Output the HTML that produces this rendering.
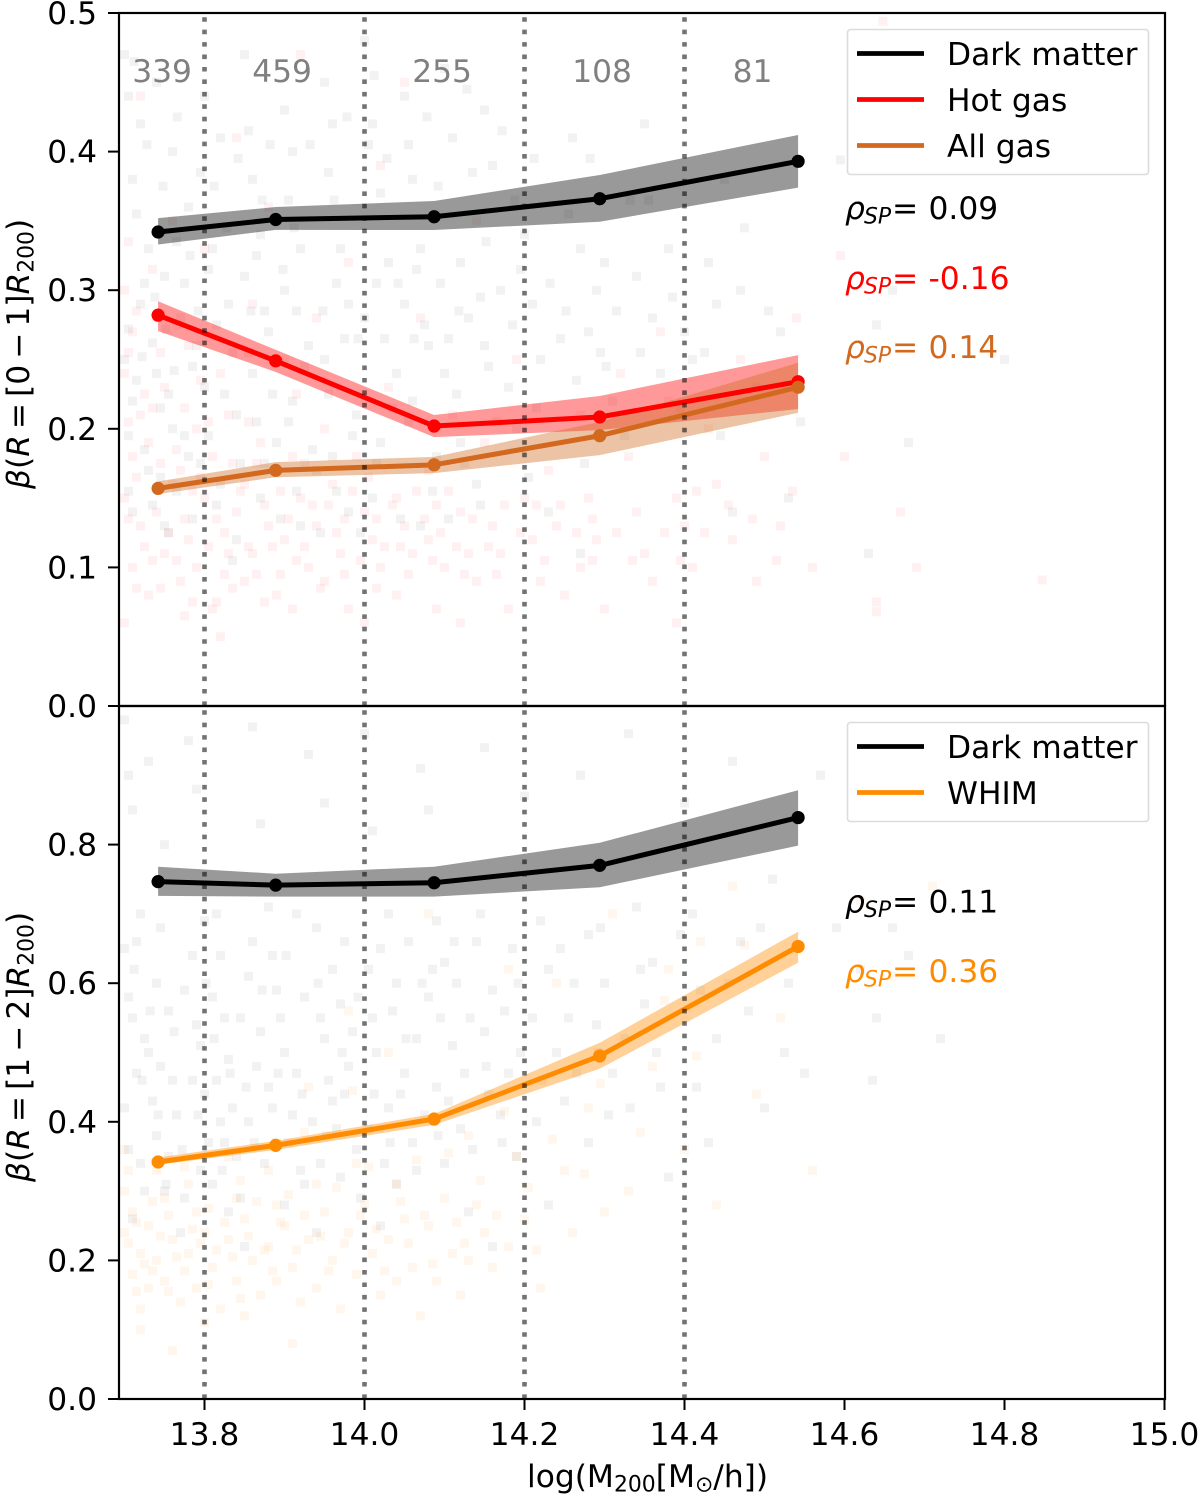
<!DOCTYPE html>
<html lang="en">
<head>
<meta charset="utf-8">
<title>Beta versus halo mass</title>
<style>
html,body{margin:0;padding:0;background:#fff;width:1200px;height:1494px;overflow:hidden}
svg{display:block}
text{font-family:"DejaVu Sans","Liberation Sans",sans-serif;font-size:31.3px;fill:#000}
.sub{font-size:21.9px}
.it{font-style:italic}
</style>
</head>
<body>
<svg id="chart" xmlns="http://www.w3.org/2000/svg" width="1200" height="1494" viewBox="0 0 1200 1494"></svg>
<script>
const massBins = [13.742, 13.889, 14.087, 14.294, 14.542];
const xTicks = [13.8, 14.0, 14.2, 14.4, 14.6, 14.8, 15.0];
const binEdges = [13.8, 14.0, 14.2, 14.4];
const topTicks = [0.0, 0.1, 0.2, 0.3, 0.4, 0.5];
const bottomTicks = [0.0, 0.2, 0.4, 0.6, 0.8];
const binCounts = ['339', '459', '255', '108', '81'];
const binCountMass = [13.747, 13.897, 14.097, 14.297, 14.485];

const topDark = [0.342, 0.351, 0.353, 0.366, 0.393];
const topDarkHigh = [0.352, 0.360, 0.3644, 0.3831, 0.412];
const topDarkLow = [0.333, 0.3435, 0.3434, 0.3494, 0.374];
const topHot = [0.282, 0.249, 0.202, 0.2085, 0.234];
const topHotHigh = [0.292, 0.257, 0.210, 0.2237, 0.2532];
const topHotLow = [0.2705, 0.241, 0.194, 0.199, 0.2143];
const topAll = [0.157, 0.170, 0.174, 0.195, 0.230];
const topAllHigh = [0.162, 0.176, 0.1797, 0.205, 0.2477];
const topAllLow = [0.153, 0.165, 0.168, 0.181, 0.2116];
const bottomDark = [0.7466, 0.7415, 0.745, 0.770, 0.839];
const bottomDarkHigh = [0.768, 0.758, 0.768, 0.8026, 0.8785];
const bottomDarkLow = [0.726, 0.725, 0.725, 0.7385, 0.7985];
const bottomWhim = [0.342, 0.366, 0.404, 0.495, 0.653];
const bottomWhimHigh = [0.3485, 0.3725, 0.4115, 0.514, 0.6745];
const bottomWhimLow = [0.338, 0.3595, 0.3955, 0.4765, 0.6295];

const topDarkScatter = [[13.70,.47],[13.72,.42],[13.71,.38],[13.73,.33],[13.72,.29],[13.70,.25],[13.71,.22],[13.74,.45],[13.76,.40],[13.75,.31],[13.77,.28],[13.74,.24],[13.76,.20],[13.78,.36],[13.79,.26],[13.73,.17],[13.71,.14],[13.75,.13],[13.78,.18],[13.80,.44],[13.82,.41],[13.81,.33],[13.83,.29],[13.80,.23],[13.84,.21],[13.82,.16],[13.85,.47],[13.86,.38],[13.87,.34],[13.85,.31],[13.88,.27],[13.86,.24],[13.89,.19],[13.87,.15],[13.84,.12],[13.90,.43],[13.91,.40],[13.92,.33],[13.90,.30],[13.93,.26],[13.91,.22],[13.94,.17],[13.92,.13],[13.95,.45],[13.96,.42],[13.97,.33],[13.98,.29],[13.95,.25],[13.99,.21],[13.96,.18],[13.98,.14],[14.00,.48],[14.01,.42],[14.02,.37],[14.03,.32],[14.00,.28],[14.04,.24],[14.02,.19],[14.01,.15],[14.05,.44],[14.06,.38],[14.07,.33],[14.05,.29],[14.08,.26],[14.06,.22],[14.09,.18],[14.07,.13],[14.10,.46],[14.11,.41],[14.12,.32],[14.13,.28],[14.10,.24],[14.12,.19],[14.14,.16],[14.15,.43],[14.16,.39],[14.17,.30],[14.15,.26],[14.18,.23],[14.20,.34],[14.21,.29],[14.22,.25],[14.19,.20],[14.23,.14],[14.26,.41],[14.27,.33],[14.29,.30],[14.28,.27],[14.30,.32],[14.31,.22],[14.27,.11],[14.35,.42],[14.34,.31],[14.36,.28],[14.38,.33],[14.37,.24],[14.40,.27],[14.41,.25],[14.43,.32],[14.45,.38],[14.44,.29],[14.47,.30],[14.49,.23],[14.46,.14],[14.52,.27],[14.53,.15],[14.595,.394],[14.64,.275],[14.66,.30],[14.68,.19],[14.63,.11],[14.80,.25],
[13.705,.44],[13.715,.355],[13.725,.305],[13.705,.272],[13.735,.262],[13.715,.235],[13.745,.215],[13.705,.195],[13.725,.185],[13.745,.165],[13.705,.155],[13.735,.145],[13.755,.125],[13.765,.335],[13.775,.305],[13.785,.245],[13.755,.225],[13.775,.195],[13.795,.175],[13.765,.155],[13.785,.135],[13.795,.385],[13.805,.315],[13.815,.275],[13.835,.255],[13.825,.225],[13.805,.195],[13.845,.175],[13.815,.145],[13.835,.105],[13.855,.415],[13.865,.325],[13.875,.285],[13.855,.255],[13.885,.225],[13.865,.205],[13.875,.175],[13.895,.135],[13.905,.365],[13.915,.285],[13.925,.245],[13.905,.205],[13.935,.185],[13.915,.155],[13.945,.125],[13.955,.385],[13.965,.305],[13.975,.265],[13.955,.225],[13.985,.195],[13.965,.155],[13.995,.125],[14.005,.405],[14.015,.305],[14.025,.265],[14.035,.215],[14.015,.175],[14.045,.135],[14.055,.405],[14.065,.315],[14.075,.275],[14.055,.205],[14.085,.155],[14.095,.305],[14.105,.265],[14.115,.225],[14.125,.175],[14.105,.135],[14.135,.385],[14.145,.295],[14.155,.245],[14.165,.205],[14.145,.145],[14.185,.275],[14.195,.315],[14.215,.215],[14.205,.165],[14.245,.265],[14.255,.355],[14.265,.235],[14.275,.175],[14.295,.255],[14.315,.285],[14.325,.195],[14.345,.255],[14.355,.365],[14.385,.295],[14.395,.215],[14.425,.255],[14.445,.195],[14.475,.345],[14.505,.285],[14.545,.205],
[13.712,.465],[13.728,.405],[13.748,.375],[13.766,.425],[13.738,.295],[13.752,.272],[13.782,.325],[13.792,.285],[13.722,.252],[13.762,.242],[13.812,.375],[13.828,.345],[13.842,.395],[13.858,.285],[13.872,.365],[13.882,.405],[13.898,.315],[13.912,.345],[13.932,.405],[13.948,.285],[13.962,.365],[13.978,.425],[13.992,.265],[14.012,.455],[14.028,.395],[14.042,.305],[14.062,.265],[14.078,.425],[14.092,.375],[14.118,.285],[14.128,.445],[14.152,.335],[14.172,.415],[14.188,.365],[14.212,.395],[14.232,.305],[14.252,.285],[14.282,.395],[14.302,.245],[14.332,.365]];
const topHotScatter = [[13.70,.30],[13.71,.27],[13.70,.24],[13.72,.21],[13.71,.18],[13.70,.15],[13.72,.13],[13.71,.10],[13.73,.08],[13.70,.06],[13.74,.28],[13.75,.23],[13.73,.19],[13.76,.16],[13.74,.14],[13.75,.11],[13.77,.09],[13.72,.44],[13.76,.35],[13.78,.26],[13.79,.20],[13.77,.17],[13.80,.15],[13.78,.12],[13.79,.10],[13.81,.07],[13.80,.33],[13.82,.24],[13.83,.21],[13.81,.18],[13.84,.14],[13.83,.11],[13.85,.09],[13.82,.05],[13.84,.41],[13.86,.29],[13.87,.19],[13.85,.16],[13.88,.13],[13.86,.11],[13.89,.08],[13.88,.36],[13.90,.25],[13.91,.18],[13.92,.15],[13.90,.12],[13.93,.10],[13.91,.07],[13.92,.47],[13.94,.28],[13.95,.20],[13.96,.16],[13.94,.13],[13.97,.11],[13.95,.09],[13.98,.07],[13.98,.32],[13.99,.18],[14.00,.14],[14.01,.12],[14.02,.10],[14.00,.06],[14.02,.39],[14.03,.23],[14.04,.15],[14.05,.13],[14.06,.11],[14.04,.08],[14.05,.45],[14.07,.28],[14.08,.17],[14.09,.145],[14.08,.12],[14.10,.10],[14.09,.07],[14.11,.21],[14.12,.14],[14.13,.11],[14.14,.09],[14.12,.06],[14.14,.35],[14.15,.19],[14.16,.13],[14.17,.11],[14.18,.07],[14.19,.25],[14.20,.15],[14.21,.12],[14.22,.09],[14.23,.17],[14.24,.13],[14.25,.08],[14.27,.21],[14.28,.15],[14.29,.12],[14.27,.10],[14.30,.07],[14.32,.24],[14.33,.18],[14.34,.14],[14.35,.11],[14.36,.09],[14.37,.27],[14.38,.22],[14.39,.15],[14.40,.13],[14.41,.10],[14.39,.06],[14.43,.20],[14.44,.16],[14.46,.12],[14.47,.25],[14.49,.09],[14.50,.18],[14.52,.13],[14.54,.28],[14.56,.10],[14.595,.325],[14.648,.494],[14.60,.18],[14.64,.075],[14.64,.068],[14.67,.14],[14.847,.091],[14.69,.10],
[13.705,.335],[13.715,.285],[13.705,.255],[13.725,.225],[13.705,.205],[13.715,.165],[13.705,.135],[13.725,.115],[13.715,.085],[13.735,.315],[13.745,.255],[13.735,.215],[13.745,.175],[13.755,.125],[13.735,.105],[13.745,.085],[13.765,.275],[13.775,.215],[13.765,.185],[13.785,.155],[13.775,.135],[13.765,.105],[13.785,.075],[13.775,.065],[13.795,.235],[13.805,.205],[13.795,.165],[13.815,.135],[13.805,.115],[13.825,.095],[13.815,.075],[13.835,.175],[13.845,.155],[13.825,.125],[13.855,.115],[13.835,.085],[13.855,.205],[13.865,.175],[13.875,.145],[13.885,.115],[13.865,.095],[13.875,.075],[13.895,.155],[13.905,.135],[13.915,.105],[13.895,.095],[13.925,.175],[13.935,.145],[13.925,.115],[13.945,.085],[13.915,.225],[13.955,.145],[13.965,.125],[13.975,.095],[13.985,.155],[13.975,.135],[13.995,.105],[14.005,.165],[14.015,.135],[14.025,.115],[14.015,.085],[14.035,.145],[14.045,.115],[14.055,.095],[14.065,.155],[14.075,.135],[14.085,.105],[14.095,.125],[14.105,.155],[14.115,.115],[14.125,.095],[14.135,.135],[14.155,.115],[14.165,.095],[14.175,.145],[14.195,.125],[14.215,.145],[14.225,.105],[14.245,.145],[14.265,.125],[14.285,.135],[14.285,.105],[14.315,.125],[14.335,.105],[14.375,.125],[14.395,.105],[14.415,.155],[14.425,.125],[14.455,.145],[14.485,.135],[14.515,.105],[14.535,.155]];
const bottomDarkScatter = [[13.70,.98],[13.73,.92],[13.71,.85],[13.75,.80],[13.72,.70],[13.70,.65],[13.74,.60],[13.71,.55],[13.73,.50],[13.76,.46],[13.70,.42],[13.74,.38],[13.72,.34],[13.75,.30],[13.71,.26],[13.77,.24],[13.78,.95],[13.79,.88],[13.80,.69],[13.82,.64],[13.81,.58],[13.79,.54],[13.83,.49],[13.80,.44],[13.82,.40],[13.84,.35],[13.81,.31],[13.83,.27],[13.85,.22],[13.86,.97],[13.87,.83],[13.88,.71],[13.86,.66],[13.89,.59],[13.87,.53],[13.90,.50],[13.88,.45],[13.91,.41],[13.89,.37],[13.92,.33],[13.90,.28],[13.93,.93],[13.95,.86],[13.94,.68],[13.96,.62],[13.97,.57],[13.95,.52],[13.98,.48],[13.96,.43],[13.99,.36],[13.97,.32],[13.94,.24],[14.00,.96],[14.01,.82],[14.03,.70],[14.02,.65],[14.04,.60],[14.01,.55],[14.05,.47],[14.03,.42],[14.06,.37],[14.04,.31],[14.02,.25],[14.07,.91],[14.08,.85],[14.09,.69],[14.10,.63],[14.08,.58],[14.11,.51],[14.09,.45],[14.12,.39],[14.10,.34],[14.13,.27],[14.15,.94],[14.14,.66],[14.16,.59],[14.15,.53],[14.18,.47],[14.17,.41],[14.19,.35],[14.16,.22],[14.20,.87],[14.22,.69],[14.23,.62],[14.21,.55],[14.24,.50],[14.25,.43],[14.23,.28],[14.27,.90],[14.28,.67],[14.30,.60],[14.29,.54],[14.31,.47],[14.28,.37],[14.33,.96],[14.34,.71],[14.36,.63],[14.35,.57],[14.37,.45],[14.38,.32],[14.40,.86],[14.41,.70],[14.42,.59],[14.44,.52],[14.43,.37],[14.46,.92],[14.47,.66],[14.48,.56],[14.50,.42],[14.51,.75],[14.53,.60],[14.55,.47],[14.57,.90],[14.59,.68],[14.62,.62],[14.635,.46],[14.66,.68],[14.68,.64],[14.64,.55],[14.72,.52],
[13.705,.90],[13.715,.66],[13.705,.58],[13.725,.52],[13.715,.47],[13.735,.43],[13.705,.36],[13.725,.30],[13.745,.68],[13.755,.56],[13.745,.48],[13.765,.41],[13.755,.35],[13.775,.29],[13.785,.64],[13.775,.59],[13.795,.51],[13.785,.46],[13.805,.37],[13.795,.33],[13.815,.70],[13.825,.55],[13.815,.46],[13.835,.42],[13.825,.37],[13.845,.29],[13.855,.61],[13.845,.55],[13.865,.48],[13.855,.40],[13.875,.34],[13.885,.64],[13.895,.55],[13.885,.42],[13.905,.37],[13.915,.70],[13.925,.58],[13.915,.47],[13.935,.40],[13.925,.31],[13.945,.55],[13.955,.46],[13.965,.39],[13.945,.34],[13.975,.66],[13.985,.53],[13.975,.44],[13.995,.29],[14.005,.62],[14.015,.50],[14.005,.39],[14.025,.34],[14.035,.56],[14.045,.44],[14.055,.66],[14.065,.52],[14.075,.41],[14.065,.33],[14.085,.62],[14.095,.55],[14.105,.43],[14.115,.60],[14.125,.47],[14.135,.36],[14.145,.70],[14.155,.44],[14.175,.56],[14.185,.65],[14.195,.50],[14.215,.40],[14.245,.65],[14.255,.55],[14.265,.47],[14.295,.68],[14.305,.41],[14.325,.52],[14.345,.62],[14.365,.50],[14.395,.67],[14.415,.45],[14.455,.60],[14.495,.68],[14.525,.50],
[13.712,.62],[13.732,.56],[13.722,.46],[13.742,.41],[13.762,.53],[13.772,.36],[13.752,.31],[13.792,.41],[13.802,.60],[13.812,.52],[13.832,.47],[13.822,.33],[13.852,.45],[13.862,.37],[13.872,.59],[13.892,.47],[13.902,.64],[13.922,.44],[13.942,.60],[13.952,.38],[13.972,.50],[13.992,.58],[14.012,.44],[14.032,.37],[14.052,.52],[14.072,.60],[14.092,.38],[14.112,.66],[14.132,.55],[14.152,.48],[14.172,.37],[14.192,.60],[14.222,.46],[14.262,.60],[14.292,.50],[14.332,.42]];
const bottomWhimScatter = [[13.70,.30],[13.71,.27],[13.70,.24],[13.72,.21],[13.71,.18],[13.73,.16],[13.72,.13],[13.70,.36],[13.74,.33],[13.75,.29],[13.73,.25],[13.76,.23],[13.74,.20],[13.75,.17],[13.77,.14],[13.72,.10],[13.76,.07],[13.78,.31],[13.79,.27],[13.80,.24],[13.78,.21],[13.81,.19],[13.79,.16],[13.82,.13],[13.80,.11],[13.83,.35],[13.84,.29],[13.85,.26],[13.83,.23],[13.86,.20],[13.84,.17],[13.87,.15],[13.85,.12],[13.88,.33],[13.89,.28],[13.90,.25],[13.88,.22],[13.91,.19],[13.89,.17],[13.92,.14],[13.93,.45],[13.94,.31],[13.95,.27],[13.93,.23],[13.96,.20],[13.94,.16],[13.97,.13],[13.91,.08],[13.98,.56],[13.99,.34],[14.00,.28],[13.98,.24],[14.01,.21],[13.99,.18],[14.02,.15],[14.03,.50],[14.04,.31],[14.05,.26],[14.03,.23],[14.06,.19],[14.04,.17],[14.07,.12],[14.08,.70],[14.09,.40],[14.10,.29],[14.08,.25],[14.11,.21],[14.09,.17],[14.12,.15],[14.13,.38],[14.14,.28],[14.15,.24],[14.13,.20],[14.16,.19],[14.18,.62],[14.19,.35],[14.20,.26],[14.18,.22],[14.22,.16],[14.24,.60],[14.25,.33],[14.26,.24],[14.28,.42],[14.30,.27],[14.31,.70],[14.33,.30],[14.36,.48],[14.38,.62],[14.40,.36],[14.42,.66],[14.44,.28],[14.46,.74],[14.49,.44],[14.52,.55],[14.56,.33],[14.62,.72],[14.66,.61],[14.71,.74],
[13.705,.33],[13.715,.255],[13.705,.225],[13.725,.195],[13.715,.155],[13.735,.285],[13.745,.235],[13.735,.185],[13.755,.265],[13.765,.205],[13.755,.155],[13.775,.335],[13.785,.245],[13.775,.185],[13.795,.225],[13.805,.275],[13.815,.215],[13.805,.165],[13.825,.255],[13.835,.205],[13.845,.315],[13.855,.235],[13.845,.145],[13.865,.285],[13.875,.215],[13.885,.185],[13.895,.255],[13.905,.295],[13.915,.215],[13.925,.385],[13.925,.265],[13.945,.235],[13.955,.185],[13.965,.305],[13.975,.225],[13.985,.445],[13.995,.265],[14.005,.335],[14.015,.245],[14.025,.185],[14.045,.285],[14.055,.225],[14.065,.345],[14.075,.265],[14.085,.195],[14.105,.355],[14.115,.255],[14.125,.225],[14.145,.315],[14.165,.265],[14.175,.415],[14.205,.305],[14.215,.215],[14.235,.375],[14.275,.325],[14.295,.455],[14.345,.385],[14.375,.575],[14.415,.495],[14.475,.655]];

const ns = 'http://www.w3.org/2000/svg';
const svg = document.getElementById('chart');
function x(v) { return 364.5 + (v - 14) * 800; }
function yTop(v) { return 706 - v * 1386; }
function yBottom(v) { return 1399 - v * 693; }
function mk(tag, attrs, parent) {
  const el = document.createElementNS(ns, tag);
  for (const k in attrs) el.setAttribute(k, attrs[k]);
  (parent || svg).appendChild(el);
  return el;
}
function drawScatter(points, yFn, color, alpha, name) {
  for (const p of points) {
    const s = mk('rect', {x: x(p[0]) - 4.5, y: yFn(p[1]) - 4.5, width: 9, height: 9, fill: color, 'fill-opacity': alpha});
    
    
  }
}
function drawBand(high, low, yFn, color, name) {
  let d = '';
  massBins.forEach((m, i) => { d += (i ? 'L' : 'M') + x(m) + ' ' + yFn(high[i]); });
  for (let i = massBins.length - 1; i >= 0; i--) d += 'L' + x(massBins[i]) + ' ' + yFn(low[i]);
  const b = mk('path', {d: d + 'Z', fill: color, 'fill-opacity': 0.4});
  
  
}
function drawLine(values, yFn, color, name) {
  const pts = values.map((v, i) => x(massBins[i]) + ',' + yFn(v)).join(' ');
  const l = mk('polyline', {points: pts, fill: 'none', stroke: color, 'stroke-width': 5, 'stroke-linejoin': 'round'});
  
  
  values.forEach((v, i) => {
    const c = mk('circle', {cx: x(massBins[i]), cy: yFn(v), r: 6.6, fill: color});
    
    
  });
}
function label(txt, px, py, anchor, fill, name) {
  const t = mk('text', {x: px, y: py, 'text-anchor': anchor, fill: fill || '#000'});
  t.textContent = txt;
  t.style.fill = fill || '#000';
  
  
  return t;
}
function tspan(parent, txt, attrs, cls) {
  const s = mk('tspan', attrs || {}, parent);
  if (cls) s.setAttribute('class', cls);
  s.textContent = txt;
  return s;
}

drawScatter(topDarkScatter, yTop, '#000', 0.05, 'dark-matter-scatter-point');
drawScatter(topHotScatter, yTop, '#f00', 0.055, 'hot-gas-scatter-point');
drawScatter(bottomDarkScatter, yBottom, '#000', 0.05, 'dark-matter-scatter-point');
drawScatter(bottomWhimScatter, yBottom, '#ff8c00', 0.07, 'whim-scatter-point');

drawBand(topDarkHigh, topDarkLow, yTop, '#000', 'dark-matter-band-top');
drawBand(topHotHigh, topHotLow, yTop, '#f00', 'hot-gas-band');
drawBand(topAllHigh, topAllLow, yTop, '#d2691e', 'all-gas-band');
drawBand(bottomDarkHigh, bottomDarkLow, yBottom, '#000', 'dark-matter-band-bottom');
drawBand(bottomWhimHigh, bottomWhimLow, yBottom, '#ff8c00', 'whim-band');

drawLine(topDark, yTop, '#000', 'dark-matter-line-top');
drawLine(topHot, yTop, '#f00', 'hot-gas-line');
drawLine(topAll, yTop, '#d2691e', 'all-gas-line');
drawLine(bottomDark, yBottom, '#000', 'dark-matter-line-bottom');
drawLine(bottomWhim, yBottom, '#ff8c00', 'whim-line');

for (const e of binEdges) {
  const a = mk('line', {x1: x(e), x2: x(e), y1: yTop(0), y2: yTop(0.5), stroke: '#000', 'stroke-opacity': 0.55, 'stroke-width': 4.6, 'stroke-dasharray': '4.6 7.84'});
  
  
  const b = mk('line', {x1: x(e), x2: x(e), y1: yBottom(0), y2: yBottom(1), stroke: '#000', 'stroke-opacity': 0.55, 'stroke-width': 4.6, 'stroke-dasharray': '4.6 7.84'});
  
  
}

binCounts.forEach((c, i) => {
  label(c, x(binCountMass[i]), 82, 'middle', '#808080', 'bin-count-label');
});

for (const v of xTicks) {
  const t = mk('line', {x1: x(v), x2: x(v), y1: 1399, y2: 1410, stroke: '#000', 'stroke-width': 2});
  
  
  label(v.toFixed(1), x(v), 1445, 'middle', '#000', 'x-tick-label');
}
for (const v of topTicks) {
  const t = mk('line', {x1: 108, x2: 119, y1: yTop(v), y2: yTop(v), stroke: '#000', 'stroke-width': 2});
  
  
  label(v.toFixed(1), 97, yTop(v) + 11, 'end', '#000', 'top-y-tick-label');
}
for (const v of bottomTicks) {
  const t = mk('line', {x1: 108, x2: 119, y1: yBottom(v), y2: yBottom(v), stroke: '#000', 'stroke-width': 2});
  
  
  label(v.toFixed(1), 97, yBottom(v) + 11, 'end', '#000', 'bottom-y-tick-label');
}

const frameTop = mk('rect', {x: 119, y: 13, width: 1046, height: 693, fill: 'none', stroke: '#000', 'stroke-width': 2.2});


const frameBottom = mk('rect', {x: 119, y: 706, width: 1046, height: 693, fill: 'none', stroke: '#000', 'stroke-width': 2.2});



function legendBox(py, h, name) {
  const b = mk('rect', {x: 847.5, y: py, width: 301, height: h, rx: 3, fill: '#fff', 'fill-opacity': 0.8, stroke: '#dcdcdc', 'stroke-width': 1.6});
  
  
}
function legendEntry(py, color, txt) {
  const l = mk('line', {x1: 857, x2: 924, y1: py, y2: py, stroke: color, 'stroke-width': 4.8});
  
  
  label(txt, 947, py + 11.5, 'start', '#000', 'legend-entry');
}
legendBox(29.5, 145, 'top-legend');
legendEntry(53.5, '#000', 'Dark matter');
legendEntry(99.5, '#f00', 'Hot gas');
legendEntry(145.5, '#d2691e', 'All gas');
legendBox(722.5, 99, 'bottom-legend');
legendEntry(746.5, '#000', 'Dark matter');
legendEntry(792.5, '#ff8c00', 'WHIM');

function rho(py, color, val, name) {
  const t = label('', 846, py, 'start', color, name);
  tspan(t, 'ρ', {x: 845}, 'it');
  tspan(t, 'SP', {x: 864, dy: 4.5}, 'it sub');
  tspan(t, '=', {x: 892, dy: -4.5});
  tspan(t, val, {x: 928.5});
}
rho(219, '#000', '0.09', 'dark-matter-correlation-top');
rho(289, '#f00', '-0.16', 'hot-gas-correlation');
rho(358, '#d2691e', '0.14', 'all-gas-correlation');
rho(912.5, '#000', '0.11', 'dark-matter-correlation-bottom');
rho(982, '#ff8c00', '0.36', 'whim-correlation');

function yTitle(py, range, name) {
  const t = label('', 0, 0, 'start', '#000', name);
  t.setAttribute('transform', 'translate(29 ' + py + ') rotate(-90)');
  t.style.wordSpacing = '-4px';
  tspan(t, 'β', {}, 'it');
  tspan(t, '(');
  tspan(t, 'R', {}, 'it');
  tspan(t, ' = ');
  tspan(t, range);
  tspan(t, 'R', {}, 'it');
  tspan(t, '200', {dy: 4.5}, 'sub');
  tspan(t, ')', {dy: -4.5});
}
yTitle(489, '[0 − 1]', 'top-y-axis-title');
yTitle(1182, '[1 − 2]', 'bottom-y-axis-title');

const xTitle = label('', 527, 1487, 'start', '#000', 'x-axis-title');
tspan(xTitle, 'log(M');
tspan(xTitle, '200', {dy: 4.5}, 'sub');
tspan(xTitle, '[M', {dy: -4.5});
tspan(xTitle, '⊙', {dy: 4.5}, 'sub');
tspan(xTitle, '/h])', {dy: -4.5});
</script>
</body>
</html>
